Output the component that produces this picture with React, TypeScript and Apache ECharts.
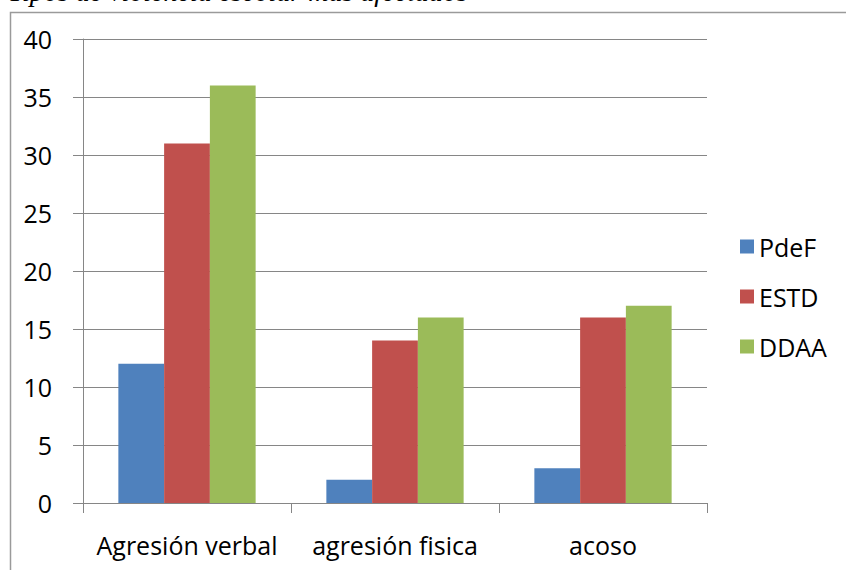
import React, { useEffect, useRef } from "react";
import * as echarts from "echarts";

const categories = ["Agresión verbal", "agresión fisica", "acoso"];
const seriesNames = ["PdeF", "ESTD", "DDAA"];
const pdef = [12, 2, 3];
const estd = [31, 14, 16];
const ddaa = [36, 16, 17];
const colors = ["#4F81BD", "#C0504D", "#9BBB59"];
const titleText = "Tipos de violencia escolar más afectados";

export default function App() {
  const ref = useRef<HTMLDivElement>(null);
  useEffect(() => {
    if (!ref.current) return;
    const chart = echarts.init(ref.current, null, { renderer: "svg" });
    const font = "'Open Sans', 'Noto Sans', sans-serif";
    const values = [pdef, estd, ddaa];
    chart.setOption({
      animation: false,
      backgroundColor: "#ffffff",
      textStyle: { fontFamily: font },
      grid: { left: 83, right: 139, top: 39, bottom: 67, containLabel: false },
      legend: {
        orient: "vertical",
        left: 735,
        top: 229,
        itemWidth: 14,
        itemHeight: 14,
        itemGap: 25,
        icon: "rect",
        textStyle: { fontSize: 25, color: "#000", fontFamily: font, lineHeight: 25 },
        data: seriesNames,
      },
      xAxis: {
        type: "category",
        data: categories,
        axisLine: { lineStyle: { color: "#868686", width: 1 } },
        axisTick: { show: true, length: 10, lineStyle: { color: "#868686" } },
        axisLabel: { color: "#000", fontSize: 25, margin: 29, fontFamily: font, interval: 0 },
      },
      yAxis: {
        type: "value",
        min: 0,
        max: 40,
        interval: 5,
        axisLine: { show: true, lineStyle: { color: "#868686", width: 1 } },
        axisTick: { show: true, length: 10, lineStyle: { color: "#868686" } },
        axisLabel: { color: "#000", fontSize: 25, margin: 31, fontFamily: font },
        splitLine: { show: true, lineStyle: { color: "#868686", width: 1 } },
      },
      graphic: [
        {
          type: "rect",
          shape: { x: 10.5, y: 12.5, width: 900, height: 600 },
          style: { fill: "none", stroke: "#9a9a9a", lineWidth: 1.5 },
          silent: true,
          z: -1,
        },
        {
          type: "text",
          left: 8,
          top: -23,
          style: {
            text: titleText,
            font: "italic 28px 'Liberation Serif', serif",
            fill: "#000",
          },
        },
      ],
      series: seriesNames.map((name, i) => ({
        name,
        type: "bar",
        data: values[i],
        barGap: "0%",
        barCategoryGap: "34%",
        itemStyle: { color: colors[i] },
      })),
    });
    return () => chart.dispose();
  }, []);
  return (
    <div
      ref={ref}
      style={{ position: "absolute", left: 0, top: 0, width: 846, height: 570 }}
    />
  );
}
